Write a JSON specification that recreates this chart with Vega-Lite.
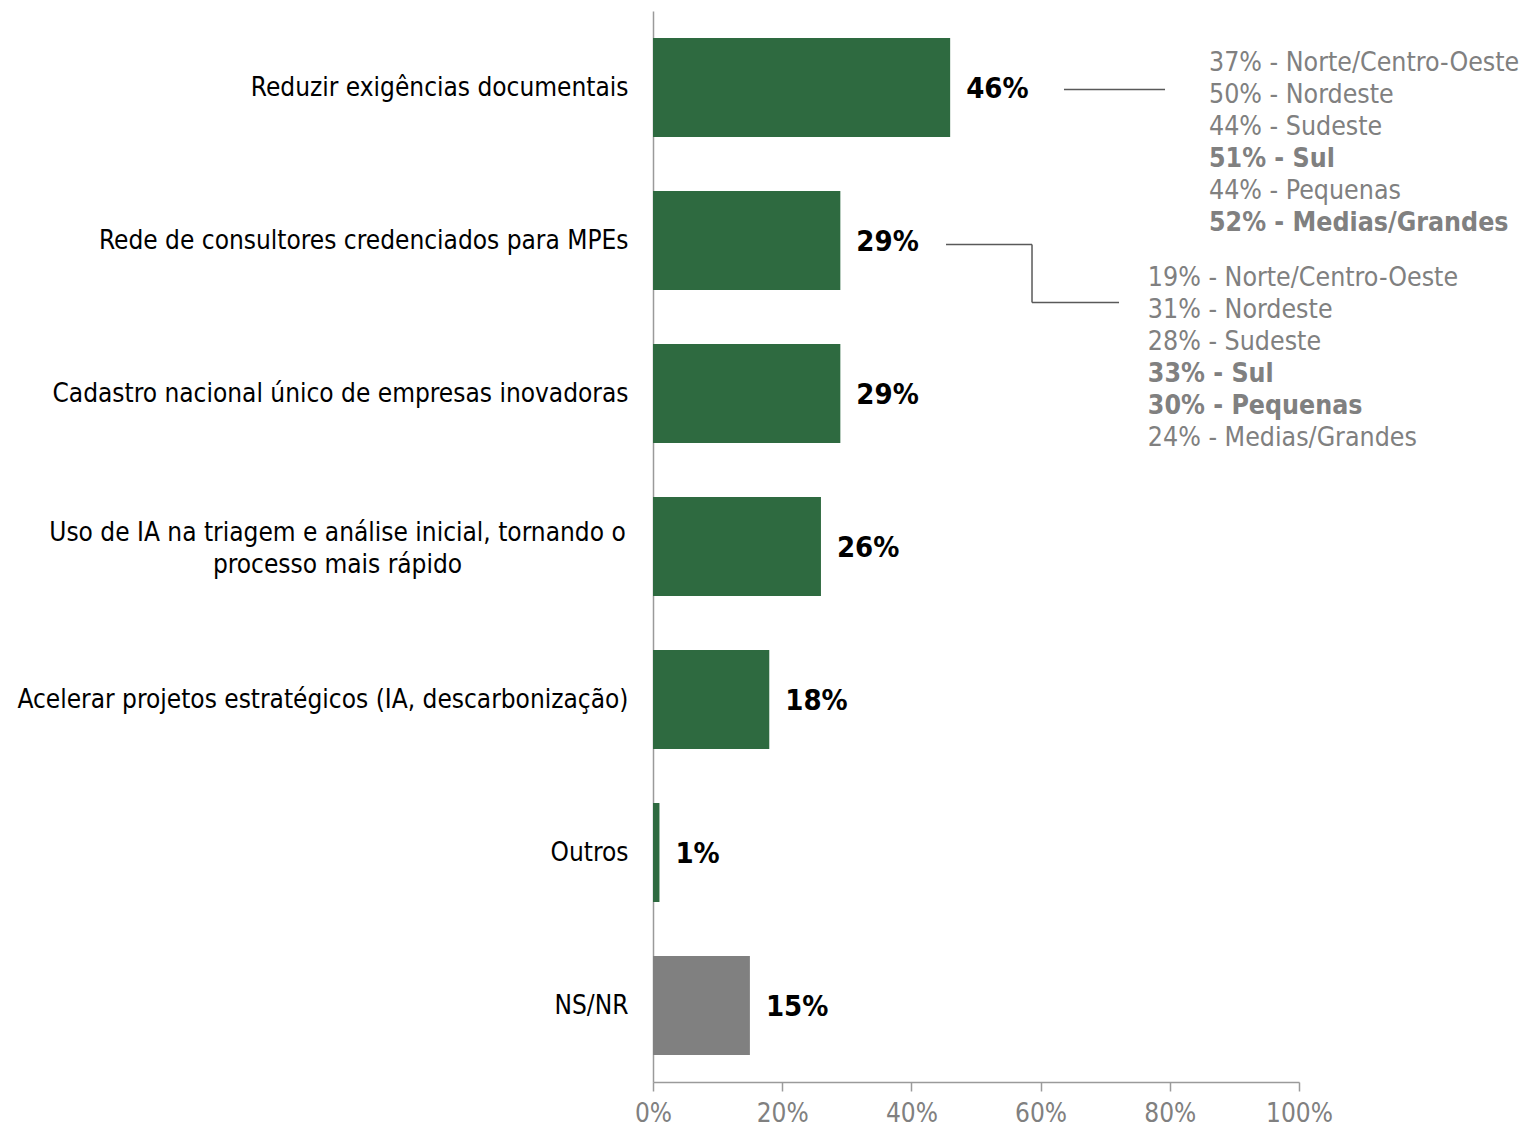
{
  "$schema": "https://vega.github.io/schema/vega-lite/v6.json",
  "autosize": "none",
  "width": 646,
  "height": 1071,
  "padding": {"left": 653, "top": 11, "right": 230, "bottom": 46},
  "background": "white",
  "config": {"view": {"stroke": null}, "font": "DejaVu Sans Condensed"},
  "datasets": {
    "barras": [
      {"item": "Reduzir exigências documentais", "pct": 46, "tipo": "resposta"},
      {"item": "Rede de consultores credenciados para MPEs", "pct": 29, "tipo": "resposta"},
      {"item": "Cadastro nacional único de empresas inovadoras", "pct": 29, "tipo": "resposta"},
      {"item": "Uso de IA na triagem e análise inicial, tornando o processo mais rápido", "pct": 26, "tipo": "resposta"},
      {"item": "Acelerar projetos estratégicos (IA, descarbonização)", "pct": 18, "tipo": "resposta"},
      {"item": "Outros", "pct": 1, "tipo": "resposta"},
      {"item": "NS/NR", "pct": 15, "tipo": "nsnr"}
    ],
    "segmentos": [
      {"item": "Reduzir exigências documentais", "segmento": "Norte/Centro-Oeste", "pct": 37},
      {"item": "Reduzir exigências documentais", "segmento": "Nordeste", "pct": 50},
      {"item": "Reduzir exigências documentais", "segmento": "Sudeste", "pct": 44},
      {"item": "Reduzir exigências documentais", "segmento": "Sul", "pct": 51},
      {"item": "Reduzir exigências documentais", "segmento": "Pequenas", "pct": 44},
      {"item": "Reduzir exigências documentais", "segmento": "Medias/Grandes", "pct": 52},
      {"item": "Rede de consultores credenciados para MPEs", "segmento": "Norte/Centro-Oeste", "pct": 19},
      {"item": "Rede de consultores credenciados para MPEs", "segmento": "Nordeste", "pct": 31},
      {"item": "Rede de consultores credenciados para MPEs", "segmento": "Sudeste", "pct": 28},
      {"item": "Rede de consultores credenciados para MPEs", "segmento": "Sul", "pct": 33},
      {"item": "Rede de consultores credenciados para MPEs", "segmento": "Pequenas", "pct": 30},
      {"item": "Rede de consultores credenciados para MPEs", "segmento": "Medias/Grandes", "pct": 24}
    ]
  },
  "layer": [
    {
      "data": {"name": "barras"},
      "mark": {"type": "bar"},
      "encoding": {
        "y": {
          "field": "item",
          "type": "nominal",
          "scale": {
            "domain": [
              "Reduzir exigências documentais",
              "Rede de consultores credenciados para MPEs",
              "Cadastro nacional único de empresas inovadoras",
              "Uso de IA na triagem e análise inicial, tornando o processo mais rápido",
              "Acelerar projetos estratégicos (IA, descarbonização)",
              "Outros",
              "NS/NR"
            ],
            "paddingInner": 0.353,
            "paddingOuter": 0.1765
          },
          "axis": {
            "title": null,
            "ticks": false,
            "domainColor": "#9a9a9a",
            "domainWidth": 1.5,
            "labelColor": "#000000",
            "labelFontSize": 26,
            "labelLimit": 700,
            "labelLineHeight": 32,
            "labelAlign": {"condition": {"test": "indexof(datum.value, 'Uso de IA') == 0", "value": "center"}, "value": "right"},
            "labelPadding": {"condition": {"test": "indexof(datum.value, 'Uso de IA') == 0", "value": 316}, "value": 25},
            "labelOffset": {"condition": {"test": "indexof(datum.value, 'Uso de IA') == 0", "value": -14}, "value": 0},
            "labelExpr": "indexof(datum.value, 'Uso de IA') == 0 ? ['Uso de IA na triagem e análise inicial, tornando o', 'processo mais rápido'] : datum.label"
          }
        },
        "x": {
          "field": "pct",
          "type": "quantitative",
          "scale": {"domain": [0, 100]},
          "axis": {
            "title": null,
            "values": [0, 20, 40, 60, 80, 100],
            "grid": false,
            "labelFlush": false,
            "labelExpr": "datum.value + '%'",
            "domainColor": "#9a9a9a",
            "domainWidth": 1.5,
            "tickColor": "#9a9a9a",
            "tickWidth": 1.5,
            "tickSize": 9,
            "labelColor": "#808080",
            "labelFontSize": 26,
            "labelPadding": 9
          }
        },
        "color": {
          "field": "tipo",
          "type": "nominal",
          "scale": {"domain": ["resposta", "nsnr"], "range": ["#2E6A40", "#808080"]},
          "legend": null
        }
      }
    },
    {
      "data": {"name": "barras"},
      "transform": [{"calculate": "datum.pct + '%'", "as": "rotulo"}],
      "mark": {"type": "text", "align": "left", "baseline": "middle", "dx": 16, "dy": 1, "fontWeight": "bold", "fontSize": 29, "color": "#000000"},
      "encoding": {
        "y": {"field": "item", "type": "nominal"},
        "x": {"field": "pct", "type": "quantitative"},
        "text": {"field": "rotulo"}
      }
    },
    {
      "data": {"name": "segmentos"},
      "transform": [
        {"pivot": "segmento", "value": "pct", "groupby": ["item"], "op": "max"},
        {"calculate": "max(datum['Norte/Centro-Oeste'], datum['Nordeste'], datum['Sudeste'], datum['Sul'])", "as": "rm"},
        {"calculate": "max(datum['Pequenas'], datum['Medias/Grandes'])", "as": "sm"},
        {"calculate": "[datum['Norte/Centro-Oeste'] < datum.rm ? datum['Norte/Centro-Oeste'] + '% - Norte/Centro-Oeste' : '\u200b', datum['Nordeste'] < datum.rm ? datum['Nordeste'] + '% - Nordeste' : '\u200b', datum['Sudeste'] < datum.rm ? datum['Sudeste'] + '% - Sudeste' : '\u200b', datum['Sul'] < datum.rm ? datum['Sul'] + '% - Sul' : '\u200b', datum['Pequenas'] < datum.sm ? datum['Pequenas'] + '% - Pequenas' : '\u200b', datum['Medias/Grandes'] < datum.sm ? datum['Medias/Grandes'] + '% - Medias/Grandes' : '\u200b']", "as": "normal"},
        {"calculate": "[datum['Norte/Centro-Oeste'] >= datum.rm ? datum['Norte/Centro-Oeste'] + '% - Norte/Centro-Oeste' : '\u200b', datum['Nordeste'] >= datum.rm ? datum['Nordeste'] + '% - Nordeste' : '\u200b', datum['Sudeste'] >= datum.rm ? datum['Sudeste'] + '% - Sudeste' : '\u200b', datum['Sul'] >= datum.rm ? datum['Sul'] + '% - Sul' : '\u200b', datum['Pequenas'] >= datum.sm ? datum['Pequenas'] + '% - Pequenas' : '\u200b', datum['Medias/Grandes'] >= datum.sm ? datum['Medias/Grandes'] + '% - Medias/Grandes' : '\u200b']", "as": "destaque"}
      ],
      "layer": [
        {
          "transform": [{"filter": "datum.item == 'Reduzir exigências documentais'"}],
          "mark": {"type": "text", "align": "left", "baseline": "middle", "fontSize": 26.5, "lineHeight": 32, "color": "#808080", "dy": -25},
          "encoding": {
            "y": {"field": "item", "type": "nominal"},
            "x": {"datum": 86.07},
            "text": {"field": "normal"}
          }
        },
        {
          "transform": [{"filter": "datum.item == 'Reduzir exigências documentais'"}],
          "mark": {"type": "text", "align": "left", "baseline": "middle", "fontSize": 26.5, "lineHeight": 32, "fontWeight": "bold", "color": "#808080", "dy": -25},
          "encoding": {
            "y": {"field": "item", "type": "nominal"},
            "x": {"datum": 86.07},
            "text": {"field": "destaque"}
          }
        },
        {
          "transform": [{"filter": "datum.item == 'Rede de consultores credenciados para MPEs'"}],
          "mark": {"type": "text", "align": "left", "baseline": "middle", "fontSize": 26.5, "lineHeight": 32, "color": "#808080", "dy": 37},
          "encoding": {
            "y": {"field": "item", "type": "nominal"},
            "x": {"datum": 76.6},
            "text": {"field": "normal"}
          }
        },
        {
          "transform": [{"filter": "datum.item == 'Rede de consultores credenciados para MPEs'"}],
          "mark": {"type": "text", "align": "left", "baseline": "middle", "fontSize": 26.5, "lineHeight": 32, "fontWeight": "bold", "color": "#808080", "dy": 37},
          "encoding": {
            "y": {"field": "item", "type": "nominal"},
            "x": {"datum": 76.6},
            "text": {"field": "destaque"}
          }
        }
      ]
    },
    {
      "data": {"values": [{}]},
      "layer": [
        {
          "mark": {"type": "rule", "color": "#595959", "strokeWidth": 1.5, "yOffset": 2},
          "encoding": {
            "y": {"datum": "Reduzir exigências documentais"},
            "x": {"datum": 63.62},
            "x2": {"datum": 79.26}
          }
        },
        {
          "mark": {"type": "rule", "color": "#595959", "strokeWidth": 1.5, "yOffset": 4},
          "encoding": {
            "y": {"datum": "Rede de consultores credenciados para MPEs"},
            "x": {"datum": 45.36},
            "x2": {"datum": 58.67}
          }
        },
        {
          "mark": {"type": "rule", "color": "#595959", "strokeWidth": 1.5, "yOffset": 4, "y2Offset": 62},
          "encoding": {
            "y": {"datum": "Rede de consultores credenciados para MPEs"},
            "y2": {"datum": "Rede de consultores credenciados para MPEs"},
            "x": {"datum": 58.67}
          }
        },
        {
          "mark": {"type": "rule", "color": "#595959", "strokeWidth": 1.5, "yOffset": 62},
          "encoding": {
            "y": {"datum": "Rede de consultores credenciados para MPEs"},
            "x": {"datum": 58.67},
            "x2": {"datum": 72.14}
          }
        }
      ]
    }
  ]
}
